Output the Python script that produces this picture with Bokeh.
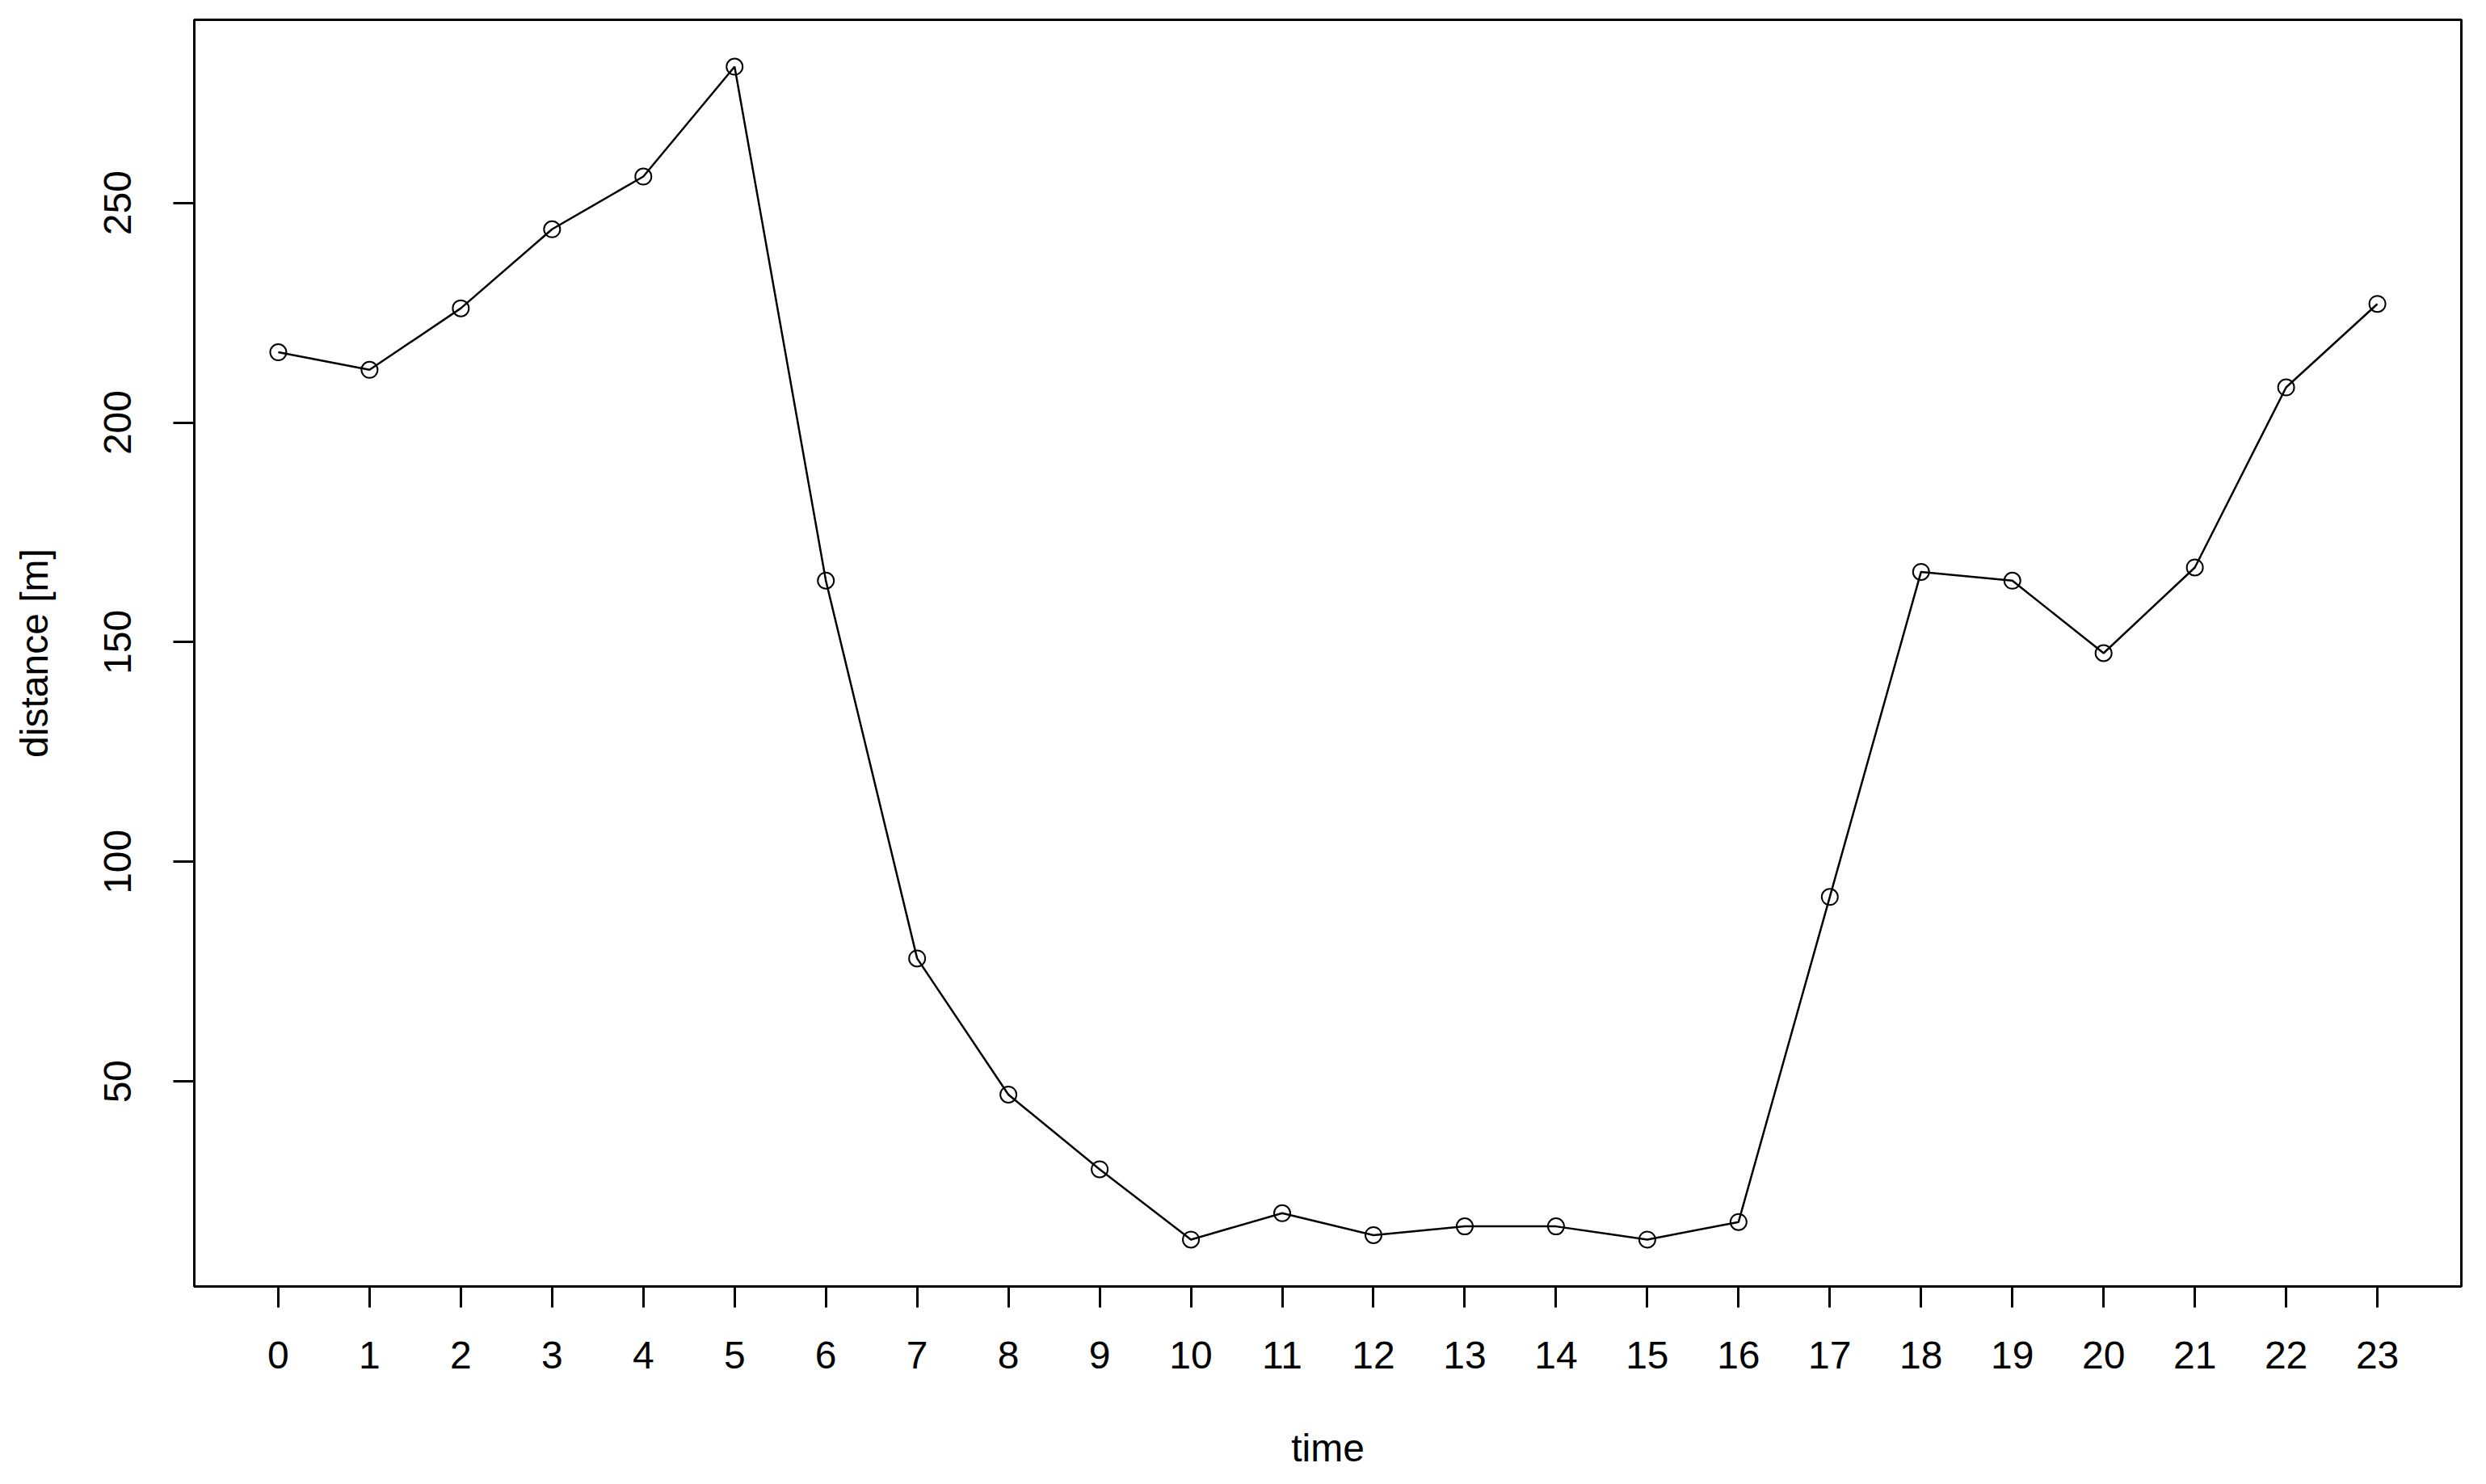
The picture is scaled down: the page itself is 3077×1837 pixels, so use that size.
from bokeh.plotting import figure
from bokeh.models import FixedTicker, Range1d
from bokeh.embed import file_html
from bokeh.resources import INLINE

hours = list(range(24))
distance = [216, 212, 226, 244, 256, 281, 164, 78, 47, 30, 14, 20,
            15, 17, 17, 14, 18, 92, 166, 164, 147.5, 167, 208, 227]
x_ticks = list(range(24))
y_ticks = [50, 100, 150, 200, 250]

def pad(lo, hi):
    d = (hi - lo) * 0.04
    return lo - d, hi + d

x0, x1 = pad(min(hours), max(hours))
y0, y1 = pad(min(distance), max(distance))

FONT = "Liberation Sans"

p = figure(width=3061, height=1821, output_backend="svg", toolbar_location=None,
           x_range=Range1d(x0, x1), y_range=Range1d(y0, y1),
           min_border_left=240, min_border_right=15, min_border_top=24, min_border_bottom=223)
p.background_fill_color = "white"
p.border_fill_color = "white"
p.outline_line_color = "black"
p.outline_line_width = 3
p.xgrid.visible = False
p.ygrid.visible = False

p.line(hours, distance, line_color="black", line_width=2.5)
p.scatter(hours, distance, marker="circle", size=20, fill_color=None,
          line_color="black", line_width=2)

for ax in (p.xaxis[0], p.yaxis[0]):
    ax.axis_line_color = None
    ax.major_tick_line_color = "black"
    ax.major_tick_line_width = 3
    ax.major_tick_out = 26
    ax.major_tick_in = 0
    ax.minor_tick_line_color = None
    ax.major_label_text_font = FONT
    ax.major_label_text_font_size = "48px"
    ax.major_label_text_color = "black"
    ax.axis_label_text_font = FONT
    ax.axis_label_text_font_size = "48px"
    ax.axis_label_text_font_style = "normal"
    ax.axis_label_text_color = "black"

p.xaxis.ticker = FixedTicker(ticks=x_ticks)
p.yaxis.ticker = FixedTicker(ticks=y_ticks)
p.yaxis.major_label_orientation = "vertical"
p.xaxis.axis_label = "time"
p.yaxis.axis_label = "distance [m]"
p.xaxis.major_label_standoff = 42
p.xaxis.axis_label_standoff = 69
p.yaxis.major_label_standoff = 52
p.yaxis.axis_label_standoff = 58

open("out.html", "w").write(file_html(p, INLINE))
